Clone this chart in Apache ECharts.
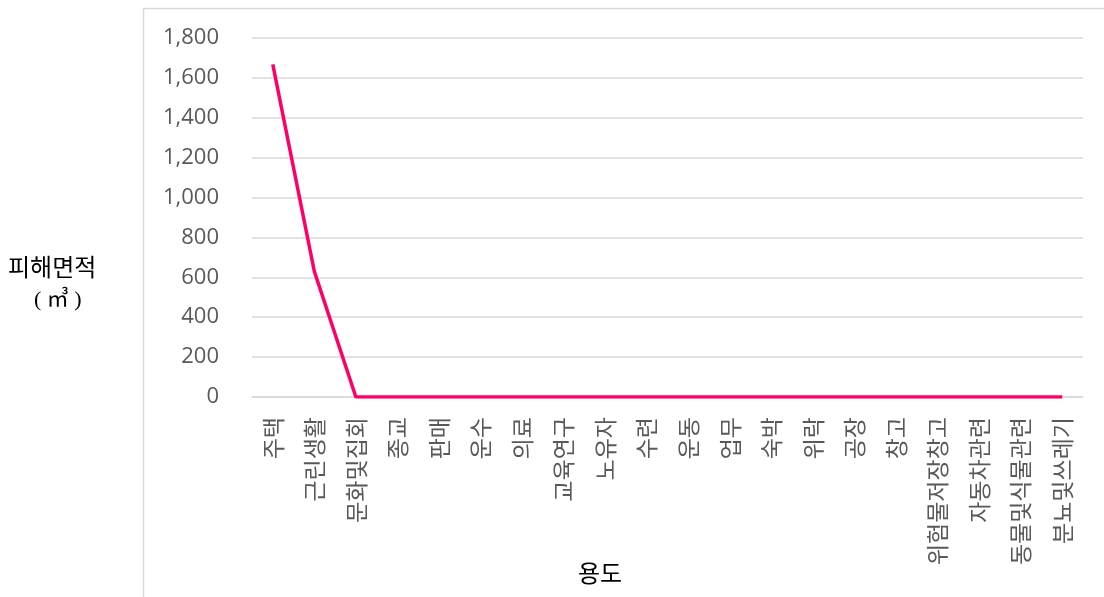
<!DOCTYPE html>
<html>
<head>
<meta charset="utf-8">
<script src="https://cdn.jsdelivr.net/npm/echarts@6/dist/echarts.min.js"></script>
<style>
  html, body { margin: 0; padding: 0; background: #fff; }
  #chart { width: 1104px; height: 597px; }
</style>
</head>
<body>
<div id="chart"></div>
<script>
// 용도별 피해면적
const categories = ['주택', '근린생활', '문화및집회', '종교', '판매', '운수', '의료', '교육연구', '노유자', '수련',
  '운동', '업무', '숙박', '위락', '공장', '창고', '위험물저장창고', '자동차관련', '동물및식물관련', '분뇨및쓰레기'];
const damageArea = [1668, 630, 0, 0, 0, 0, 0, 0, 0, 0,
  0, 0, 0, 0, 0, 0, 0, 0, 0, 0];
const yTicks = [0, 200, 400, 600, 800, 1000, 1200, 1400, 1600, 1800];

const sans = '"Noto Sans CJK KR", "Open Sans", sans-serif';
const serif = '"Liberation Serif", "Noto Sans CJK KR", serif';

const chart = echarts.init(document.getElementById('chart'));
chart.setOption({
  animation: false,
  backgroundColor: '#fff',
  grid: { left: 252, right: 21, top: 38, bottom: 200, containLabel: false },
  graphic: [
    {
      type: 'rect', silent: true,
      shape: { x: 143.5, y: 8.5, width: 1100, height: 700 },
      style: { fill: 'none', stroke: '#d9d9d9', lineWidth: 1.5 }
    },
    {
      type: 'text', left: 8, top: 258,
      style: { text: '피해면적', font: '24px ' + serif, fill: '#000', letterSpacing: 1.5 }
    },
    {
      type: 'text', left: 34, top: 289,
      style: { text: '( ㎥ )', font: '22px ' + serif, fill: '#000' }
    },
    {
      type: 'text', left: 578, top: 564,
      style: { text: '용도', font: '24px ' + serif, fill: '#000', letterSpacing: 1.5 }
    }
  ],
  xAxis: {
    type: 'category',
    data: categories,
    boundaryGap: true,
    axisLine: { show: true, lineStyle: { color: '#d9d9d9', width: 1.5 } },
    axisTick: { show: false },
    axisLabel: {
      rotate: 90, interval: 0, margin: 20,
      color: '#595959', fontSize: 23, fontFamily: sans, letterSpacing: 1
    }
  },
  yAxis: {
    type: 'value',
    min: yTicks[0], max: yTicks[yTicks.length - 1], interval: 200,
    axisLine: { show: false },
    axisTick: { show: false },
    splitLine: { lineStyle: { color: '#d9d9d9', width: 1.5 } },
    axisLabel: {
      margin: 33, color: '#595959', fontSize: 22, fontFamily: '"Open Sans", sans-serif',
      formatter: v => v.toLocaleString('en-US')
    }
  },
  series: [{
    type: 'line',
    data: damageArea,
    symbol: 'none',
    lineStyle: { color: '#ff0066', width: 3.5 },
    itemStyle: { color: '#ff0066' }
  }]
});
</script>
</body>
</html>
